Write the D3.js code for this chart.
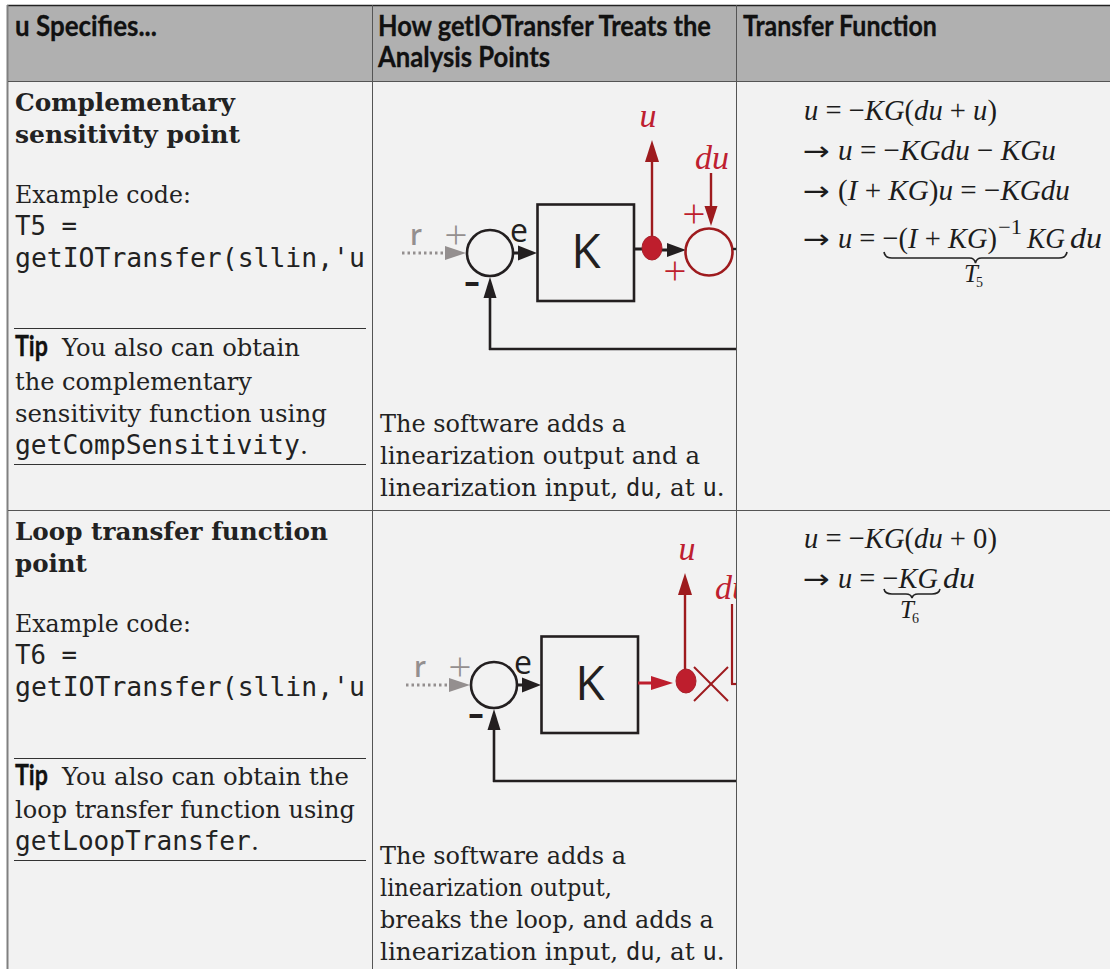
<!DOCTYPE html>
<html>
<head>
<meta charset="utf-8">
<script src="https://cdn.jsdelivr.net/npm/d3@7"></script>
<style>
html, body { margin: 0; padding: 0; background: #fff; }
svg { display: block; }
.head { font-family: Lato, "Open Sans", sans-serif; font-weight: 700; font-size: 28px; fill: #111; stroke: #111; stroke-width: 0.3px; }
.serif { font-family: "DejaVu Serif", serif; font-size: 25px; fill: #222; }
.title { font-family: "DejaVu Serif", serif; font-weight: 700; font-size: 25px; fill: #222; }
.mono { font-family: "DejaVu Sans Mono", monospace; font-size: 26px; fill: #222; }
.math { font-family: "Liberation Serif", serif; font-size: 30px; fill: #1c1c1c; }
.arrowglyph { font-family: "DejaVu Sans", sans-serif; font-size: 26px; fill: #1c1c1c; }
.label { font-family: "Open Sans", sans-serif; fill: #231f20; }
.redital { font-family: "Liberation Serif", serif; font-style: italic; font-size: 34px; fill: #be2030; }
</style>
</head>
<body>
<div id="Div_table"></div>
<script>
// table text
var headerLabels = ["u Specifies...", "How getIOTransfer Treats the", "Analysis Points", "Transfer Function"];
var titleLines = ["Complementary", "sensitivity point", "Loop transfer function", "point"];
var exampleLabel = "Example code:";
var codeLines = ["T5 =", "T6 =", "getIOTransfer(sllin,'u"];
var tipLabel = "Tip";
var tipLines1 = ["You also can obtain", "the complementary", "sensitivity function using", "getCompSensitivity"];
var tipLines2 = ["You also can obtain the", "loop transfer function using", "getLoopTransfer"];
var softwareLines1 = ["The software adds a", "linearization output and a", "linearization input, #du#, at #u#."];
var softwareLines2 = ["The software adds a", "linearization output,", "breaks the loop, and adds a", "linearization input, #du#, at #u#."];
// *..* is italic
var equations1 = ["*u* = −*KG*(*du* + *u*)", "*u* = −*KG**du* − *KG**u*", "(*I* + *KG*)*u* = −*KG**du*", "*u* = −(*I* + *KG*)"];
var equations2 = ["*u* = −*KG*(*du* + 0)", "*u* = −*KG*"];
var arrowGlyph = "→";

var width = 1110, height = 969;
var col1 = 372, col2 = 736;
var headBottom = 81, rowDivider = 510;

var svg = d3.select("#Div_table")
    .append("svg")
    .attr("width", width)
    .attr("height", height);

//**********************Helpers**********************
// 写一行文字，然后横向缩放到目标宽度
function put(parent, cls, str, x, y, w) {
    var t = parent.append("text").attr("class", cls).attr("x", 0).attr("y", 0);
    str.split("#").forEach(function (part, i) {
        if (part == "") return;
        var s = t.append("tspan").text(part).attr("xml:space", "preserve");
        if (i % 2 == 1) s.style("font-family", '"DejaVu Sans Mono", monospace').style("font-size", "24px");
    });
    var sx = w ? w / t.node().getComputedTextLength() : 1;
    t.attr("transform", "translate(" + x + "," + y + ") scale(" + sx + ",1)");
    return t;
}

function putMath(parent, str, x, y, w, size) {
    var t = parent.append("text").attr("class", "math").attr("x", 0).attr("y", 0);
    if (size) t.style("font-size", size + "px");
    str.split("*").forEach(function (part, i) {
        if (part == "") return;
        t.append("tspan").text(part).style("font-style", i % 2 == 1 ? "italic" : "normal");
    });
    var sx = w ? w / t.node().getComputedTextLength() : 1;
    t.attr("transform", "translate(" + x + "," + y + ") scale(" + sx + ",1)");
    return t;
}

function centered(parent, str, x, y, size, color, extra) {
    return parent.append("text")
        .attr("class", "label")
        .attr("x", x)
        .attr("y", y)
        .attr("text-anchor", "middle")
        .style("font-size", size + "px")
        .style("fill", color)
        .style("font-weight", extra || 400)
        .text(str);
}

function seg(parent, x1, y1, x2, y2, color, sw) {
    return parent.append("line")
        .attr("x1", x1).attr("y1", y1).attr("x2", x2).attr("y2", y2)
        .attr("stroke", color)
        .attr("stroke-width", sw);
}

// 三角形箭头: tip为尖端, base为底边, half为半宽
function arrow(parent, tipX, tipY, baseX, baseY, half, color) {
    var p = d3.path();
    p.moveTo(tipX, tipY);
    if (tipY == baseY) {
        p.lineTo(baseX, baseY - half);
        p.lineTo(baseX, baseY + half);
    } else {
        p.lineTo(baseX - half, baseY);
        p.lineTo(baseX + half, baseY);
    }
    p.closePath();
    return parent.append("path").attr("d", p.toString()).attr("fill", color);
}

function brace(parent, x0, x1, y, h) {
    var mid = (x0 + x1) / 2, p = d3.path();
    p.moveTo(x0, y);
    p.quadraticCurveTo(x0 + 1, y + h * 0.55, x0 + 8, y + h * 0.55);
    p.lineTo(mid - 6, y + h * 0.55);
    p.quadraticCurveTo(mid - 1, y + h * 0.55, mid, y + h);
    p.quadraticCurveTo(mid + 1, y + h * 0.55, mid + 6, y + h * 0.55);
    p.lineTo(x1 - 8, y + h * 0.55);
    p.quadraticCurveTo(x1 - 1, y + h * 0.55, x1, y);
    parent.append("path").attr("d", p.toString())
        .attr("fill", "none").attr("stroke", "#222").attr("stroke-width", 1.6);
}

//**********************Background**********************
svg.append("rect").attr("x", 8).attr("y", 5).attr("width", width - 8).attr("height", height - 5).attr("fill", "#f2f2f2");
svg.append("rect").attr("x", 8).attr("y", 5).attr("width", width - 8).attr("height", headBottom - 5).attr("fill", "#b0b0b0");

//**********************Block diagrams**********************
svg.append("clipPath").attr("id", "clip_diagram")
    .append("rect").attr("x", col1).attr("y", 0).attr("width", col2 - col1).attr("height", height);

var black = "#231f20", gray = "#948f8f", red = "#be1e2d", darkRed = "#9e1b1e";

// 两张图共用的部分: 输入, 求和点, K方框, 反馈线
function commonLoop(g) {
    seg(g, 402, 253, 445, 253, gray, 3).attr("stroke-dasharray", "2.5 3");
    arrow(g, 466, 253, 445, 253, 7, gray);
    centered(g, "r", 416, 245, 28, gray, 600);
    centered(g, "+", 456, 249, 41, gray, 300);
    g.append("circle").attr("cx", 490).attr("cy", 253).attr("r", 23)
        .attr("fill", "none").attr("stroke", black).attr("stroke-width", 2.6);
    centered(g, "e", 519, 242, 32, black);
    seg(g, 513, 253, 520, 253, black, 3);
    arrow(g, 537, 253, 518, 253, 7.5, black);
    centered(g, "–", 472, 292, 30, black, 800);
    seg(g, 490, 350, 490, 296, black, 2.6);
    arrow(g, 490, 277, 490, 298, 6.5, black);
    seg(g, 489, 349, 740, 349, black, 2.6);
    g.append("rect").attr("x", 537.5).attr("y", 204.5).attr("width", 96.5).attr("height", 96.5)
        .attr("fill", "none").attr("stroke", black).attr("stroke-width", 2.6);
    centered(g, "K", 586, 268, 48, black);
}

// 第一张图
var diagram1 = svg.append("g").attr("clip-path", "url(#clip_diagram)");
commonLoop(diagram1);
seg(diagram1, 634, 249, 645, 249, black, 3);
seg(diagram1, 660, 250, 670, 250, black, 3);
arrow(diagram1, 686, 250, 667, 250, 7, black);
seg(diagram1, 652, 240, 652, 160, darkRed, 2.4);
arrow(diagram1, 652, 140, 652, 162, 7, darkRed);
diagram1.append("ellipse").attr("cx", 652).attr("cy", 248).attr("rx", 10).attr("ry", 12)
    .attr("fill", red).attr("stroke", "#a8202a").attr("stroke-width", 1);
diagram1.append("text").attr("class", "redital").attr("x", 648).attr("y", 127).attr("text-anchor", "middle").text("u");
diagram1.append("text").attr("class", "redital").attr("x", 712).attr("y", 169).attr("text-anchor", "middle").text("du");
seg(diagram1, 711, 173, 711, 208, darkRed, 2.4);
arrow(diagram1, 711, 226, 711, 206, 6.5, darkRed);
centered(diagram1, "+", 694, 228, 41, red, 300);
centered(diagram1, "+", 675, 285, 41, red, 300);
diagram1.append("circle").attr("cx", 709).attr("cy", 252).attr("r", 23.5)
    .attr("fill", "none").attr("stroke", darkRed).attr("stroke-width", 2.6);
seg(diagram1, 733, 249, 740, 249, black, 2.4);

// 第二张图，相对第一张平移
var diagram2 = svg.append("g").attr("clip-path", "url(#clip_diagram)");
commonLoop(diagram2.append("g").attr("transform", "translate(4,432)"));
seg(diagram2, 638, 683, 655, 683, red, 3);
arrow(diagram2, 673, 683, 651, 683, 7, red);
seg(diagram2, 685, 672, 685, 592, darkRed, 2.4);
arrow(diagram2, 685, 573, 685, 595, 7, darkRed);
diagram2.append("ellipse").attr("cx", 686).attr("cy", 681).attr("rx", 10).attr("ry", 12)
    .attr("fill", red).attr("stroke", "#a8202a").attr("stroke-width", 1);
diagram2.append("text").attr("class", "redital").attr("x", 687).attr("y", 560).attr("text-anchor", "middle").text("u");
diagram2.append("text").attr("class", "redital").attr("x", 715).attr("y", 599).text("du");
seg(diagram2, 694, 667, 728, 701, darkRed, 2);
seg(diagram2, 694, 701, 728, 667, darkRed, 2);
seg(diagram2, 732, 604, 732, 684, darkRed, 2.2);
seg(diagram2, 731, 684, 740, 684, darkRed, 2.2);

//**********************Text columns**********************
var text = svg.append("g");

// 表头
put(text, "head", headerLabels[0], 15, 36, 142);
put(text, "head", headerLabels[1], 378, 36, 333);
put(text, "head", headerLabels[2], 378, 67, 172);
put(text, "head", headerLabels[3], 743, 36, 194);

// 第一行
put(text, "title", titleLines[0], 15, 111, 220);
put(text, "title", titleLines[1], 15, 143, 225);
put(text, "serif", exampleLabel, 15, 203, 176);
put(text, "mono", codeLines[0], 15, 235, 62);
put(text, "mono", codeLines[2], 15, 267, 350);
put(text, "head", tipLabel, 15, 356, 33);
put(text, "serif", tipLines1[0], 62, 356, 238);
put(text, "serif", tipLines1[1], 15, 390, 237);
put(text, "serif", tipLines1[2], 15, 422, 312);
put(text, "mono", tipLines1[3], 15, 454, 285);
put(text, "serif", ".", 300, 454);
put(text, "serif", softwareLines1[0], 380, 432, 246);
put(text, "serif", softwareLines1[1], 380, 464, 320);
put(text, "serif", softwareLines1[2], 380, 496, 345);

// 第二行
put(text, "title", titleLines[2], 15, 540, 313);
put(text, "title", titleLines[3], 15, 572, 72);
put(text, "serif", exampleLabel, 15, 632, 176);
put(text, "mono", codeLines[1], 15, 664, 62);
put(text, "mono", codeLines[2], 15, 696, 350);
put(text, "head", tipLabel, 15, 785, 33);
put(text, "serif", tipLines2[0], 62, 785, 287);
put(text, "serif", tipLines2[1], 15, 818, 340);
put(text, "mono", tipLines2[2], 15, 850, 236);
put(text, "serif", ".", 251, 850);
put(text, "serif", softwareLines2[0], 380, 864, 246);
put(text, "serif", softwareLines2[1], 380, 896, 232);
put(text, "serif", softwareLines2[2], 380, 928, 334);
put(text, "serif", softwareLines2[3], 380, 960, 345);

// Tip上下的横线
[328, 464, 758, 860].forEach(function (y) {
    seg(text, 14, y + 0.5, 366, y + 0.5, "#333", 1.2);
});

//**********************Equations**********************
var eq = svg.append("g");

putMath(eq, equations1[0], 804, 120, 193);
put(eq, "arrowglyph", arrowGlyph, 803, 160, 27);
putMath(eq, equations1[1], 838, 160, 218);
put(eq, "arrowglyph", arrowGlyph, 803, 200, 27);
putMath(eq, equations1[2], 838, 200, 232);
put(eq, "arrowglyph", arrowGlyph, 803, 248, 27);
putMath(eq, equations1[3], 838, 248, 159);
putMath(eq, "−1", 998, 234, 24, 21);
putMath(eq, "*KG*", 1027, 248, 38);
putMath(eq, "*du*", 1070, 248, 32);
brace(eq, 884, 1067, 252, 11);
putMath(eq, "*T*", 964, 282, 0, 25);
putMath(eq, "5", 976, 287, 0, 14);

putMath(eq, equations2[0], 804, 548, 193);
put(eq, "arrowglyph", arrowGlyph, 803, 588, 27);
putMath(eq, equations2[1], 838, 588, 100);
putMath(eq, "*du*", 943, 588, 32);
brace(eq, 884, 940, 589, 9);
putMath(eq, "*T*", 900, 618, 0, 25);
putMath(eq, "6", 912, 623, 0, 14);

//**********************Grid lines**********************
seg(svg, 7, 5.5, width, 5.5, "#222", 1.4);
seg(svg, 7.5, 5, 7.5, height, "#808080", 2);
seg(svg, 8, headBottom + 0.5, width, headBottom + 0.5, "#555", 1.2);
seg(svg, 8, rowDivider + 0.5, width, rowDivider + 0.5, "#555", 1.2);
seg(svg, col1 + 0.5, 5, col1 + 0.5, height, "#555", 1);
seg(svg, col2 + 0.5, 5, col2 + 0.5, height, "#555", 1);
</script>
</body>
</html>
